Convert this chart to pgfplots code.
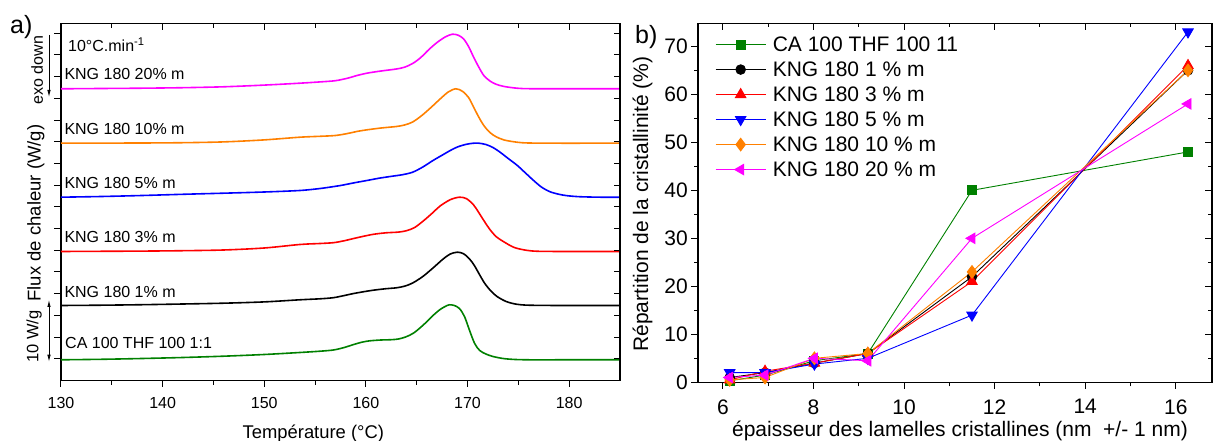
\documentclass[border=0pt]{standalone}
\usepackage{pgfplots}
\pgfplotsset{compat=1.18}
\usepackage{fontspec}
\setmainfont{Liberation Sans}
\usetikzlibrary{arrows.meta}
\definecolor{cgreen}{RGB}{0,128,0}
\definecolor{corange}{RGB}{255,128,0}
\definecolor{cmag}{RGB}{255,0,255}
\definecolor{cblue}{RGB}{0,0,255}
\definecolor{cred}{RGB}{255,0,0}
\newcommand{\fsz}[1]{\fontsize{#1}{#1}\selectfont}
\begin{document}
\begin{tikzpicture}
\useasboundingbox (0pt,0pt) rectangle (1213pt,441pt);
% ---------------- left panel ----------------
\begin{axis}[at={(61pt,60.5pt)}, anchor=south west, scale only axis,
  width=559pt, height=357pt,
  xmin=130, xmax=185, ymin=0, ymax=357,
  xtick={130,140,...,180}, minor xtick={135,145,155,165,175},
  ytick={21.7,43.4,65.1,86.8,108.5,130.2,151.9,173.6,195.3,217,238.7,260.4,282.1,303.8,325.5,347.2},
  yticklabels={},
  tick align=outside, xtick pos=bottom, ytick pos=left,
  major tick length=6.5pt, minor tick length=4.5pt,
  tick style={black, line width=1pt},
  axis line style={line width=1.3pt},
  ticklabel style={font=\fsz{16}},
  xticklabel style={yshift=-7pt},
  /pgf/number format/assume math mode=true,
  every axis plot/.append style={line width=1.6pt, smooth, no marks}]
\addplot[color=cgreen] coordinates {(130,20.7)(134,21.2)(138,22)(142,23)(146,24.3)(150,26)(153.5,28)(155.5,29.3)(156.8,30.5)(157.8,32.8)(158.8,36)(159.6,38.3)(160.4,39.7)(161.5,40.5)(162.5,40.8)(163.2,41.5)(163.9,43.5)(164.7,47.5)(165.7,56)(166.6,65)(167.3,71)(167.8,74)(168.2,75.7)(168.7,75)(169.2,72)(169.7,64)(170.2,50)(170.7,37)(171.2,30)(171.8,26.5)(172.5,24)(173.5,22)(174.5,21.1)(176,20.7)(179,20.7)(182,20.7)(185,20.7)};
\addplot[color=black] coordinates {(130,75)(134,75.3)(138,75.8)(142,76.5)(146,77.3)(150,78.6)(153.5,80.7)(155.5,81.7)(156.8,82.8)(157.8,84.8)(158.8,87)(159.8,88.8)(160.8,90.4)(162,91.8)(163,92.7)(163.8,94.3)(164.6,97.5)(165.6,104)(166.6,112.5)(167.6,121.5)(168.3,126.5)(169.0,128.3)(169.6,126.8)(170.2,121.5)(170.7,114.5)(171.2,105.5)(171.7,97)(172.3,89.5)(172.9,84)(173.8,79)(174.8,76.3)(176,75.3)(179,75)(182,75)(185,75)};
\addplot[color=cred] coordinates {(130,129)(134,129.2)(138,129.4)(142,129.8)(146,130.5)(150,132.5)(153.5,136)(155.5,137)(156.8,137.8)(157.8,139.6)(158.8,142)(159.8,144.3)(160.8,146.3)(162,147.7)(163.2,148.4)(164,149.8)(164.8,153)(165.7,160)(166.6,168)(167.3,174.5)(168.3,180.8)(169.2,183.3)(169.9,181.8)(170.6,175.5)(171.1,168)(171.6,160)(172.2,151)(172.8,144)(173.6,138.5)(174.6,133)(175.8,130.2)(177,129.2)(180,129)(185,129)};
\addplot[color=cblue] coordinates {(130,183.3)(134,184)(138,185)(142,186.2)(146,187.3)(150,188.5)(153.5,190)(155.5,192)(157.5,195)(158.8,197.6)(160.1,200)(161.3,202.3)(162.4,204)(163.6,205.8)(164.6,208.3)(165.6,213.5)(166.6,220)(167.5,225.3)(168.3,230)(169.0,233.5)(169.8,236)(170.5,237.2)(171.1,237.3)(171.8,236)(172.5,233)(173.2,228.3)(174.0,222)(174.9,215)(175.7,207.5)(176.5,200)(177.3,193.2)(178.1,188.8)(179,186.2)(179.8,184.8)(181,183.8)(183,183.3)(185,183.3)};
\addplot[color=corange] coordinates {(130,237.3)(134,237.4)(138,237.5)(142,237.8)(146,238.6)(150,240.6)(153.5,243.3)(155.5,244.2)(157,245)(158.2,247)(159.2,249.2)(160.2,250.8)(161.5,252.5)(163.0,254)(163.8,255.5)(164.6,258.5)(165.5,265)(166.4,273)(167.3,281.5)(168.1,288.5)(168.85,291.7)(169.5,289.2)(170.1,283)(170.6,273.3)(171.1,263.5)(171.6,255)(172.2,248)(172.8,243.8)(173.6,240.5)(174.85,238.3)(176,237.5)(179,237.3)(182,237.3)(185,237.3)};
\addplot[color=cmag] coordinates {(130,291.7)(134,292)(138,292.3)(142,292.8)(146,293.7)(150,295.4)(153.5,297.3)(155.5,298.6)(157,299.8)(158.2,302.3)(159.2,305.2)(160.2,307.5)(161.5,309.5)(163.0,311.5)(163.8,313.3)(164.6,317)(165.4,323)(166.2,331)(167,338)(167.8,343.5)(168.5,346.3)(169.1,345.2)(169.6,341.7)(170.1,334)(170.6,323.3)(171.1,313.5)(171.6,305)(172.2,299.5)(172.8,296.3)(173.6,294)(174.85,292.3)(176,291.8)(179,291.7)(182,291.7)(185,291.7)};
\end{axis}
\begin{axis}[at={(61pt,60.5pt)}, anchor=south west, scale only axis,
  width=559pt, height=357pt,
  xmin=130, xmax=185, ymin=0, ymax=357,
  axis x line*=top, axis y line*=right, tick align=inside,
  xtick={130,140,...,180}, minor xtick={135,145,155,165,175},
  ytick={21.7,43.4,65.1,86.8,108.5,130.2,151.9,173.6,195.3,217,238.7,260.4,282.1,303.8,325.5,347.2},
  xticklabels={}, yticklabels={},
  major tick length=6.5pt, minor tick length=4.5pt,
  tick style={black, line width=1pt},
  axis line style={line width=1.3pt}]
\end{axis}
% left labels
\node[anchor=base west, inner sep=0pt, font=\fsz{16}] at (68pt,389.3pt) {10°C.min\textsuperscript{-1}};
\node[anchor=base west, inner sep=0pt, font=\fsz{16}] at (64.3pt,361pt) {KNG 180 20\% m};
\node[anchor=base west, inner sep=0pt, font=\fsz{16}] at (64.3pt,306pt) {KNG 180 10\% m};
\node[anchor=base west, inner sep=0pt, font=\fsz{16}] at (64.3pt,252pt) {KNG 180 5\% m};
\node[anchor=base west, inner sep=0pt, font=\fsz{16}] at (64.3pt,198.3pt) {KNG 180 3\% m};
\node[anchor=base west, inner sep=0pt, font=\fsz{16}] at (64.3pt,143.7pt) {KNG 180 1\% m};
\node[anchor=base west, inner sep=0pt, font=\fsz{16}] at (65pt,92.7pt) {CA 100 THF 100 1:1};
\node[anchor=base west, inner sep=0pt, font=\fsz{25}] at (10pt,407.7pt) {a)};
\node[anchor=base, inner sep=0pt, font=\fsz{16}, rotate=90] at (43pt,371pt) {exo down};
\node[anchor=base, inner sep=0pt, font=\fsz{18.5}, rotate=90] at (40.5pt,228pt) {Flux de chaleur (W/g)};
\node[anchor=base, inner sep=0pt, font=\fsz{16.5}, rotate=90] at (38.5pt,104.5pt) {10 W/g};
\draw[line width=0.8pt, -{Latex[length=7pt,width=3.5pt]}] (49pt,406pt) -- (49pt,344pt);
\draw[line width=0.8pt, {Latex[length=7pt,width=3.5pt]}-{Latex[length=7pt,width=3.5pt]}] (49pt,141pt) -- (49pt,79.3pt);
\node[anchor=base, inner sep=0pt, font=\fsz{18.4}] at (313.3pt,2.7pt) {Température (°C)};
% ---------------- right panel ----------------
\begin{axis}[at={(698pt,58.7pt)}, anchor=south west, scale only axis,
  width=514pt, height=359pt,
  xmin=5.45, xmax=16.8, ymin=0, ymax=74.8,
  xtick={6,8,...,16}, minor x tick num=1,
  ytick={0,10,...,70}, minor y tick num=1,
  tick align=outside, xtick pos=bottom, ytick pos=left,
  major tick length=6.7pt, minor tick length=4pt,
  tick style={black, line width=1pt},
  axis line style={line width=1.3pt},
  ticklabel style={font=\fsz{21}},
  xticklabel style={yshift=-7pt},
  /pgf/number format/assume math mode=true,
  every axis plot/.append style={line width=0.9pt},
  legend style={at={(0.0331,0.965)}, anchor=north west, draw=none, fill=none,
    inner sep=0pt, font=\fsz{21}, row sep=8pt, column sep=6.7pt,
    nodes={inner sep=0pt, text height=15pt, text depth=2pt}},
  legend cell align=left,
  legend image code/.code={\draw[mark repeat=2,mark phase=2,#1] plot coordinates {(0pt,0pt) (25pt,0pt) (50pt,0pt)};}]
\addplot[color=cgreen, mark=square*, mark size=4.5pt, mark options={solid}] coordinates {(6.15,0.3)(6.93,1.5)(8.02,4.5)(9.2,6)(11.5,40)(16.27,48)};
\addlegendentry{CA 100 THF 100 11}
\addplot[color=black, mark=*, mark size=4.8pt, mark options={solid}] coordinates {(6.15,1)(6.93,2)(8.02,4)(9.2,6)(11.5,22)(16.27,65)};
\addlegendentry{KNG 180 1 \% m}
\addplot[color=cred, mark=triangle*, mark size=6pt, mark options={solid}] coordinates {(6.15,0.5)(6.93,2.3)(8.02,4)(9.2,6)(11.5,21)(16.27,66)};
\addlegendentry{KNG 180 3 \% m}
\addplot[color=cblue, mark=triangle*, mark size=6pt, mark options={solid, rotate=180}] coordinates {(6.15,2)(6.93,2)(8.02,3.8)(9.2,5)(11.5,14)(16.27,73)};
\addlegendentry{KNG 180 5 \% m}
\addplot[color=corange, mark=diamond*, mark size=6.3pt, mark options={solid}] coordinates {(6.15,0.5)(6.93,1)(8.02,5)(9.2,6)(11.5,23)(16.27,65)};
\addlegendentry{KNG 180 10 \% m}
\addplot[color=cmag, mark=triangle*, mark size=6pt, mark options={solid, rotate=90}] coordinates {(6.15,1)(6.93,1.5)(8.02,5)(9.2,4.5)(11.5,30)(16.27,58)};
\addlegendentry{KNG 180 20 \% m}
\end{axis}
\begin{axis}[at={(698pt,58.7pt)}, anchor=south west, scale only axis,
  width=514pt, height=359pt,
  xmin=5.45, xmax=16.8, ymin=0, ymax=74.8,
  axis x line*=top, axis y line*=right, tick align=inside,
  xtick={6,8,...,16}, minor x tick num=1,
  ytick={0,10,...,70}, minor y tick num=1,
  xticklabels={}, yticklabels={},
  major tick length=6.7pt, minor tick length=4pt,
  tick style={black, line width=1pt},
  axis line style={line width=1.3pt}]
\end{axis}
\node[anchor=base west, inner sep=0pt, font=\fsz{25}] at (635pt,397.7pt) {b)};
\node[anchor=base, inner sep=0pt, font=\fsz{21}, rotate=90] at (648pt,237pt) {Répartition de la cristallinité (\%)};
\node[anchor=base, inner sep=0pt, font=\fsz{21}] at (960pt,4pt) {épaisseur des lamelles cristallines (nm\ \ +/- 1 nm)};
\end{tikzpicture}
\end{document}
